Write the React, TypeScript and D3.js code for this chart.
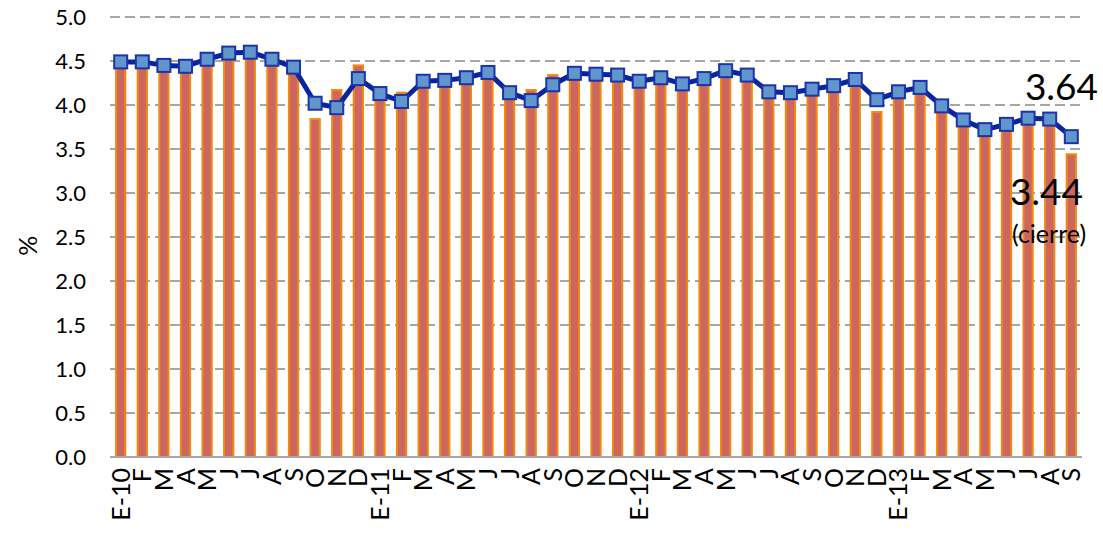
import React, { useEffect, useRef } from "react";
import * as d3 from "d3";

// Month labels, Jan 2010 - Sep 2013
const months = [
  "E-10", "F", "M", "A", "M", "J", "J", "A", "S", "O", "N", "D",
  "E-11", "F", "M", "A", "M", "J", "J", "A", "S", "O", "N", "D",
  "E-12", "F", "M", "A", "M", "J", "J", "A", "S", "O", "N", "D",
  "E-13", "F", "M", "A", "M", "J", "J", "A", "S",
];

// Monthly close (bars)
const closeValues = [
  4.46, 4.46, 4.42, 4.41, 4.49, 4.56, 4.57, 4.49, 4.40, 3.84, 4.17, 4.45,
  4.10, 4.14, 4.24, 4.25, 4.28, 4.35, 4.10, 4.17, 4.34, 4.33, 4.32, 4.31,
  4.24, 4.28, 4.20, 4.27, 4.36, 4.31, 4.12, 4.11, 4.15, 4.19, 4.26, 3.92,
  4.12, 4.17, 3.94, 3.80, 3.69, 3.75, 3.82, 3.81, 3.44,
];

// Monthly average (line)
const avgValues = [
  4.49, 4.49, 4.45, 4.44, 4.52, 4.59, 4.60, 4.52, 4.43, 4.02, 3.97, 4.30,
  4.13, 4.04, 4.27, 4.28, 4.31, 4.37, 4.14, 4.05, 4.23, 4.36, 4.35, 4.34,
  4.27, 4.31, 4.24, 4.30, 4.39, 4.34, 4.15, 4.14, 4.18, 4.22, 4.29, 4.06,
  4.15, 4.20, 3.99, 3.83, 3.72, 3.78, 3.85, 3.84, 3.64,
];

const yTicks = [0, 0.5, 1, 1.5, 2, 2.5, 3, 3.5, 4, 4.5, 5];

const App: React.FC = () => {
  const svgRef = useRef<SVGSVGElement>(null);

  useEffect(() => {
    const width = 1103;
    const height = 536;
    const margin = { top: 17, right: 21, bottom: 79, left: 110 };
    const font = "Lato, 'Open Sans', sans-serif";

    const svg = d3.select(svgRef.current).attr("width", width).attr("height", height);
    svg.selectAll("*").remove();

    const idx = months.map((_, i) => i);
    const x = d3
      .scaleBand<number>()
      .domain(idx)
      .range([margin.left, width - margin.right])
      .paddingInner(0.57)
      .paddingOuter(0.28);
    const y = d3
      .scaleLinear()
      .domain([0, 5])
      .range([height - margin.bottom, margin.top]);

    // Grid lines
    svg
      .append("g")
      .selectAll("line")
      .data(yTicks.filter((t) => t > 0))
      .join("line")
      .attr("x1", margin.left)
      .attr("x2", width - margin.right)
      .attr("y1", (d) => y(d))
      .attr("y2", (d) => y(d))
      .attr("stroke", "#a6a6a6")
      .attr("stroke-width", 2)
      .attr("stroke-dasharray", "10,5");

    // Y tick labels
    svg
      .append("g")
      .selectAll("text")
      .data(yTicks)
      .join("text")
      .attr("x", 86)
      .attr("y", (d) => y(d))
      .attr("dy", "0.36em")
      .attr("text-anchor", "end")
      .style("font-family", font)
      .style("font-size", "22px")
      .attr("fill", "#000")
      .text((d) => d3.format(".1f")(d));

    svg
      .append("text")
      .attr("transform", `translate(37, ${y(2.4)}) rotate(-90)`)
      .attr("text-anchor", "middle")
      .style("font-family", font)
      .style("font-size", "25px")
      .text("%");

    // Bars
    svg
      .append("g")
      .selectAll("rect")
      .data(closeValues)
      .join("rect")
      .attr("x", (_, i) => x(i)!)
      .attr("width", x.bandwidth())
      .attr("y", (d) => y(d))
      .attr("height", (d) => y(0) - y(d))
      .attr("fill", "#cc6660")
      .attr("stroke", "#f28a10")
      .attr("stroke-width", 2);

    // Baseline
    svg
      .append("line")
      .attr("x1", margin.left)
      .attr("x2", width - margin.right)
      .attr("y1", y(0))
      .attr("y2", y(0))
      .attr("stroke", "#a6a6a6")
      .attr("stroke-width", 2);

    // Line + square markers
    const cx = (i: number) => x(i)! + x.bandwidth() / 2;
    const line = d3
      .line<number>()
      .x((_, i) => cx(i))
      .y((d) => y(d));
    svg
      .append("path")
      .datum(avgValues)
      .attr("fill", "none")
      .attr("stroke", "#0a24a0")
      .attr("stroke-width", 5)
      .attr("stroke-linejoin", "round")
      .attr("d", line);

    const size = 13;
    svg
      .append("g")
      .selectAll("rect")
      .data(avgValues)
      .join("rect")
      .attr("x", (_, i) => cx(i) - size / 2)
      .attr("y", (d) => y(d) - size / 2)
      .attr("width", size)
      .attr("height", size)
      .attr("fill", "#6096cc")
      .attr("stroke", "#1a34aa")
      .attr("stroke-width", 2);

    // X labels, rotated
    svg
      .append("g")
      .selectAll("text")
      .data(months)
      .join("text")
      .attr("transform", (_, i) => `translate(${cx(i)}, ${y(0) + 11}) rotate(-90)`)
      .attr("dy", "0.36em")
      .attr("text-anchor", "end")
      .style("font-family", font)
      .style("font-size", "25px")
      .text((d) => d);

    // Annotations
    const last = avgValues.length - 1;
    svg
      .append("text")
      .attr("x", 1098)
      .attr("y", 100)
      .attr("text-anchor", "end")
      .style("font-family", font)
      .style("font-size", "37px")
      .text(avgValues[last].toFixed(2));
    svg
      .append("text")
      .attr("x", 1083)
      .attr("y", 205)
      .attr("text-anchor", "end")
      .style("font-family", font)
      .style("font-size", "37px")
      .text(closeValues[last].toFixed(2));
    svg
      .append("text")
      .attr("x", 1012)
      .attr("y", 243)
      .style("font-family", font)
      .style("font-size", "25px")
      .text("(cierre)");
  }, []);

  return (
    <svg
      ref={svgRef}
      style={{ position: "absolute", left: 0, top: 0, background: "#fff" }}
    />
  );
};

export default App;
